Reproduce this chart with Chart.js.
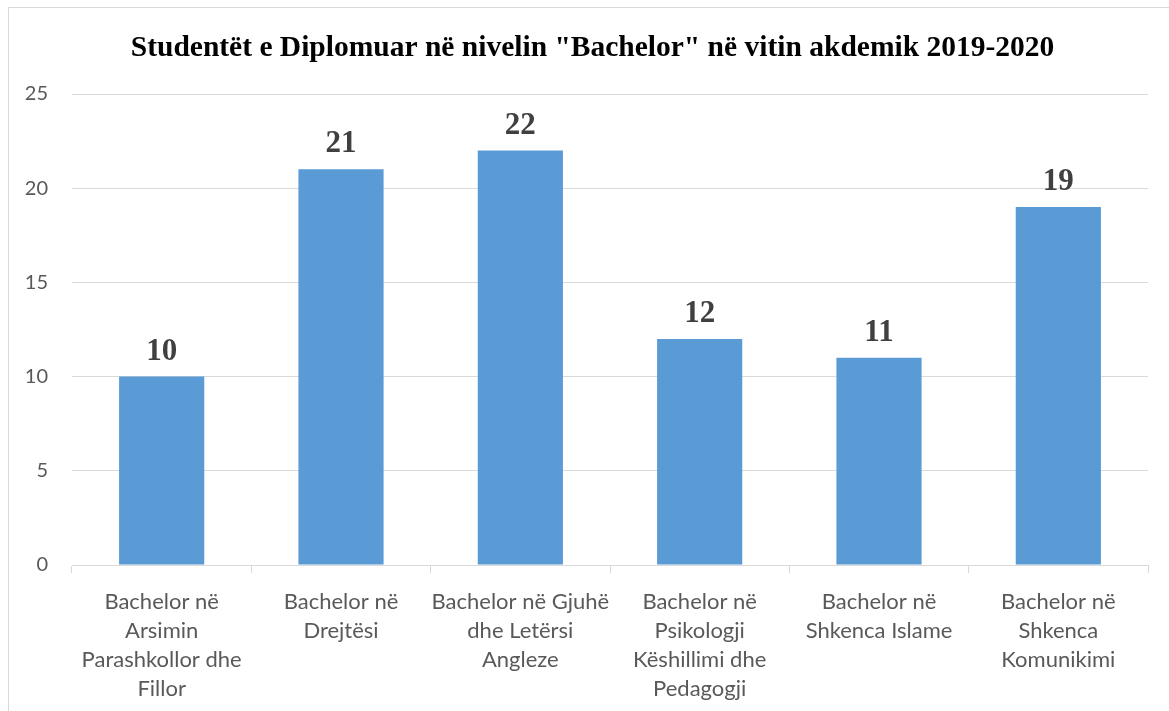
<!DOCTYPE html>
<html>
<head>
<meta charset="utf-8">
<script src="https://cdn.jsdelivr.net/npm/chart.js@4"></script>
<style>
  body { margin: 0; background: #fff; overflow: hidden; }
  #frame { position: absolute; left: 8px; top: 7px; width: 1300px; height: 800px; border: 1px solid #d9d9d9; }
  #wrap { position: absolute; left: 0; top: 0; width: 1169px; height: 711px; }
</style>
</head>
<body>
<div id="frame"></div>
<div id="wrap"><canvas id="bachelor_chart"></canvas></div>
<script>
// DATA
const chart_title = 'Studentët e Diplomuar në nivelin "Bachelor" në vitin akdemik 2019-2020';
const programs = [
	['Bachelor në', 'Arsimin', 'Parashkollor dhe', 'Fillor'],
	['Bachelor në', 'Drejtësi'],
	['Bachelor në Gjuhë', 'dhe Letërsi', 'Angleze'],
	['Bachelor në', 'Psikologji', 'Këshillimi dhe', 'Pedagogji'],
	['Bachelor në', 'Shkenca Islame'],
	['Bachelor në', 'Shkenca', 'Komunikimi']
];
const graduates = [10, 21, 22, 12, 11, 19];
const y_ticks = [0, 5, 10, 15, 20, 25];

const sans = 'Lato, "Open Sans", sans-serif';
const serif = '"Liberation Serif", "Times New Roman", serif';

// TITLE (centred on the framed area, not on the plot)
const frameTitle = {
	id: 'frameTitle',
	afterDraw(chart){
		const ctx = chart.ctx;
		ctx.save();
		ctx.font = 'bold 29.5px ' + serif;
		ctx.fillStyle = '#000';
		ctx.textAlign = 'center';
		ctx.textBaseline = 'alphabetic';
		ctx.fillText(chart_title, chart.width / 2 + 8, 56);
		ctx.restore();
	}
};

// DATA LABELS ABOVE BARS
const valueLabels = {
	id: 'valueLabels',
	afterDatasetsDraw(chart){
		const ctx = chart.ctx;
		ctx.save();
		ctx.font = 'bold 31px ' + serif;
		ctx.fillStyle = '#404040';
		ctx.textAlign = 'center';
		ctx.textBaseline = 'alphabetic';
		chart.getDatasetMeta(0).data.forEach((bar, i) => {
			ctx.fillText(graduates[i], bar.x, bar.y - 17);
		});
		ctx.restore();
	}
};

const ctx = document.getElementById('bachelor_chart').getContext('2d');

new Chart(ctx, {
	type: 'bar',
	data: {
		labels: programs,
		datasets: [{
			data: graduates,
			backgroundColor: '#5b9bd5',
			borderWidth: 0,
			barPercentage: 0.475,
			categoryPercentage: 1
		}]
	},
	options: {
		responsive: true,
		maintainAspectRatio: false,
		animation: false,
		layout: { padding: { top: 94, right: 21, bottom: 0, left: 0 } },
		plugins: {
			legend: { display: false },
			tooltip: { enabled: false },
			title: { display: false }
		},
		scales: {
			x: {
				offset: true,
				afterFit(scale){ scale.height = 146; },
				grid: {
					offset: true,
					drawOnChartArea: false,
					drawTicks: true,
					tickLength: 8,
					color: '#d9d9d9'
				},
				border: { color: '#d9d9d9' },
				ticks: {
					color: '#595959',
					font: { family: sans, size: 22, lineHeight: 1.32 },
					padding: 14,
					maxRotation: 0,
					autoSkip: false
				}
			},
			y: {
				min: 0,
				max: 25,
				afterFit(scale){ scale.width = 72; },
				afterBuildTicks(scale){ scale.ticks = y_ticks.map(v => ({ value: v })); },
				grid: { color: '#d9d9d9', drawTicks: false },
				border: { display: false },
				ticks: {
					color: '#595959',
					font: { family: sans, size: 20 },
					padding: 24
				}
			}
		}
	},
	plugins: [valueLabels, frameTitle]
});
</script>
</body>
</html>
